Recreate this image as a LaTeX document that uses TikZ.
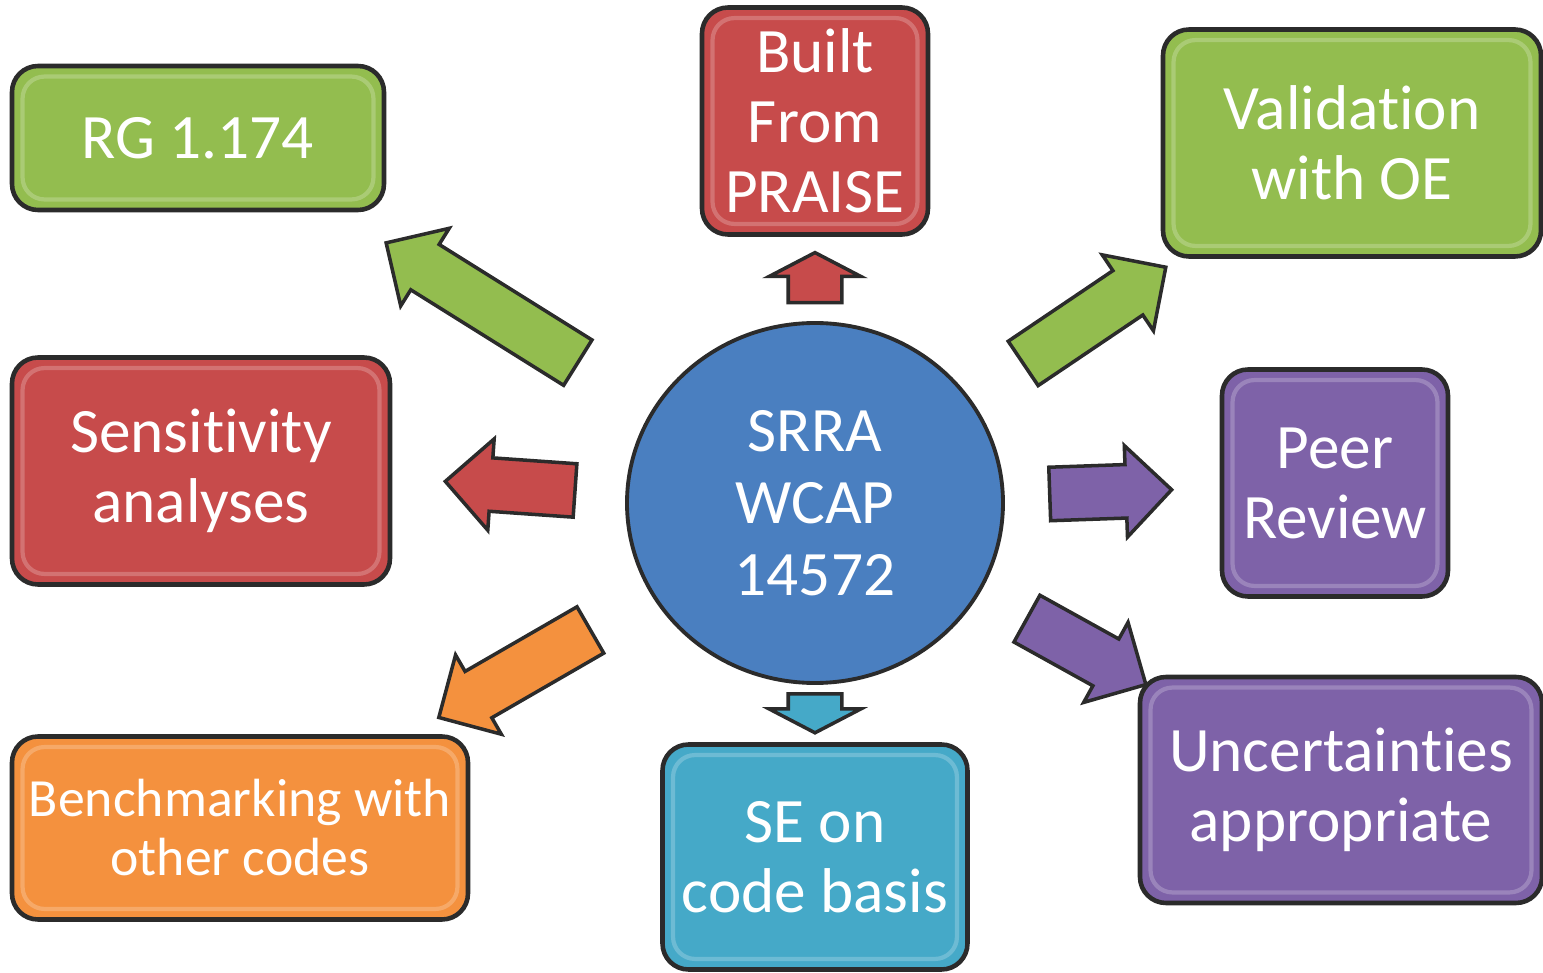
\documentclass[tikz,border=0pt]{standalone}
\usepackage{fontspec}
\setmainfont{Carlito}[Ligatures={NoCommon,NoRequired,NoContextual}]
\usetikzlibrary{shapes.arrows,shapes.geometric,calc}

\definecolor{boxgreen}{HTML}{93BD4F}
\definecolor{boxred}{HTML}{C74B4B}
\definecolor{boxpurple}{HTML}{7E62A8}
\definecolor{boxorange}{HTML}{F4913E}
\definecolor{boxcyan}{HTML}{45A9C8}
\definecolor{hubblue}{HTML}{4A7FC0}
\definecolor{edge}{HTML}{2B2B2B}

\tikzset{
  card/.style={draw=edge, line width=1.3pt, rounded corners=0.26cm,
    text=white, align=center, inner sep=0pt,
    font=\fontsize{18}{19.9}\selectfont,
    path picture={\draw[white, opacity=0.22, line width=1.2pt,
      rounded corners=0.22cm]
      ([shift={(3pt,-3pt)}]path picture bounding box.north west) rectangle
      ([shift={(-3pt,3pt)}]path picture bounding box.south east);}},
  blk/.style={single arrow, draw=edge, line width=1pt, inner xsep=0pt,
    inner ysep=0.25cm, single arrow head extend=0.19cm,
    single arrow head indent=0pt, anchor=tail},
  stub/.style={blk, single arrow tip angle=125},
}

\begin{document}
\begin{tikzpicture}[x=1cm,y=-1cm]
\useasboundingbox (0,0) rectangle (15.43,9.73);

% the hub
\node[ellipse, draw=edge, line width=1.1pt, fill=hubblue, text=white,
  minimum width=3.76cm, minimum height=3.6cm, align=center,
  font=\fontsize{18}{20.5}\selectfont] (hub) at (8.15,5.03)
  {SRRA\\WCAP\\14572};

% the outer boxes
\node[card, fill=boxgreen, minimum width=3.72cm, minimum height=1.44cm]
  (rg) at (1.98,1.38) {RG 1.174};
\node[card, fill=boxred, minimum width=2.26cm, minimum height=2.27cm]
  (praise) at (8.15,1.21) {Built\\From\\PRAISE};
\node[card, fill=boxgreen, minimum width=3.78cm, minimum height=2.27cm]
  (valid) at (13.52,1.43) {Validation\\with OE};
\node[card, fill=boxred, minimum width=3.78cm, minimum height=2.27cm]
  (sens) at (2.01,4.71) {Sensitivity\\analyses};
\node[card, fill=boxpurple, minimum width=2.26cm, minimum height=2.27cm]
  (peer) at (13.35,4.83) {Peer\\Review};
\node[card, fill=boxorange, minimum width=4.56cm, minimum height=1.83cm,
  font=\fontsize{15.3}{16.8}\selectfont]
  (bench) at (2.40,8.28) {Benchmarking with\\other codes};
\node[card, fill=boxcyan, minimum width=3.05cm, minimum height=2.25cm]
  (se) at (8.15,8.57) {SE on\\code basis};
\node[card, fill=boxpurple, minimum width=4.02cm, minimum height=2.26cm]
  (unc) at (13.41,7.90) {Uncertainties\\appropriate};

% block arrows out of the hub
\node[blk, fill=boxgreen, minimum height=2.26cm, rotate=148]
  at ($(hub)!0.382!(rg)$) {};
\node[stub, fill=boxred, minimum height=0.5cm, rotate=90]
  at ($(hub)!0.52!(praise)$) {};
\node[blk, fill=boxgreen, minimum height=1.72cm, rotate=34]
  at ($(hub)!0.385!(valid)$) {};
\node[blk, fill=boxred, minimum height=1.3cm, rotate=176]
  at ($(hub)!0.388!(sens)$) {};
\node[blk, fill=boxpurple, minimum height=1.22cm, rotate=2]
  at ($(hub)!0.448!(peer)$) {};
\node[blk, fill=boxorange, minimum height=1.75cm, rotate=210]
  at ($(hub)!0.388!(bench)$) {};
\node[stub, fill=boxcyan, minimum height=0.39cm, rotate=270]
  at ($(hub)!0.534!(se)$) {};
\node[blk, fill=boxpurple, minimum height=1.36cm, rotate=-29]
  at ($(hub)!0.40!(unc)$) {};
\end{tikzpicture}
\end{document}
